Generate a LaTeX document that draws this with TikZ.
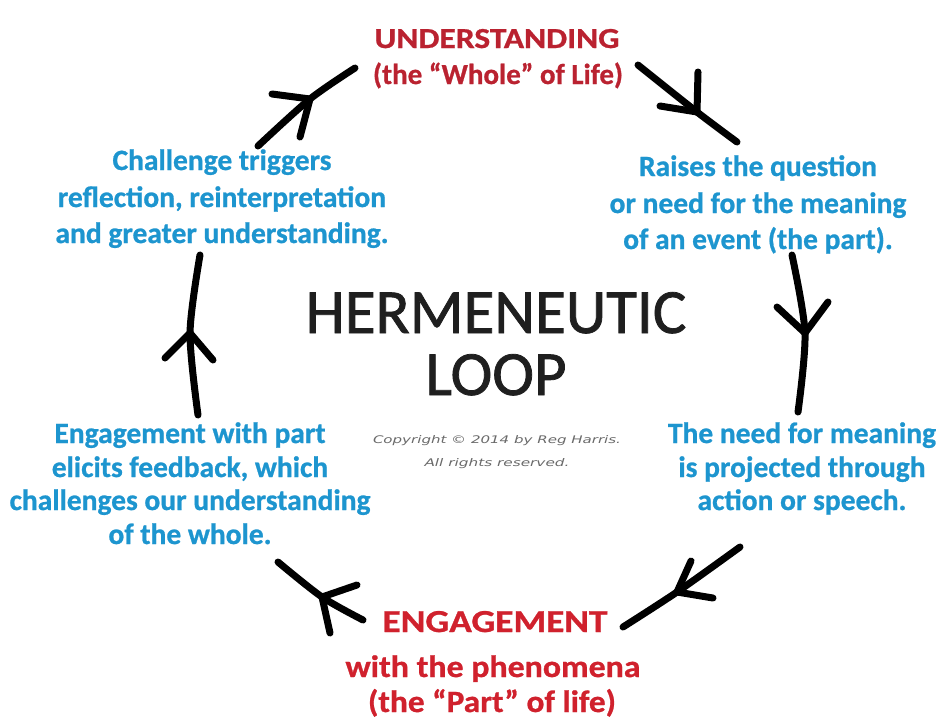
\documentclass[tikz,border=0pt]{standalone}
\usepackage{fontspec}
\usepackage{graphicx}
\setmainfont{Carlito}[BoldFeatures={FakeBold=0.8}]
\newfontfamily\titlefont{Carlito}[FakeBold=1.2]
\newfontfamily\copyfont{DejaVu Sans}
\definecolor{hred}{HTML}{BA2230}
\definecolor{hredb}{HTML}{D0212D}
\definecolor{hblue}{HTML}{1D95CF}
\definecolor{hgrey}{HTML}{6A6A6A}
\newcommand\fitw[2]{\resizebox{#1pt}{\height}{#2}}
\tikzset{
  redtxt/.style={text=hred, font=\bfseries\fontsize{29}{34}\selectfont, anchor=base, inner sep=0pt},
  bluetxt/.style={text=hblue, font=\bfseries\fontsize{29.5}{36}\selectfont, anchor=base, inner sep=0pt},
  titletxt/.style={text=black!88, font=\titlefont\fontsize{63}{70}\selectfont, anchor=base, inner sep=0pt},
  copytxt/.style={text=hgrey, font=\copyfont\itshape\fontsize{10.5}{14}\selectfont, anchor=base, inner sep=0pt},
  stroke/.style={line width=7pt, line cap=round, line join=round, black},
}
\begin{document}
\begin{tikzpicture}[x=1pt,y=-1pt]
\useasboundingbox (0,0) rectangle (944,723);
\fill[white] (0,0) rectangle (944,723);
% red texts
\node[redtxt] (u1) at (497,48) {\fitw{245}{UNDERSTANDING}};
\node[redtxt] (u2) at (498,84) {\fitw{250}{(the “Whole” of Life)}};
\node[redtxt, text=hredb, font=\bfseries\fontsize{32}{36}\selectfont] (e1) at (495,632) {\fitw{225}{ENGAGEMENT}};
\node[redtxt, text=hredb, font=\bfseries\fontsize{31}{36}\selectfont] (e2) at (493,677) {\fitw{295}{with the phenomena}};
\node[redtxt, text=hredb, font=\bfseries\fontsize{31}{36}\selectfont] (e3) at (492,712) {\fitw{248}{(the “Part” of life)}};
% blue texts
\node[bluetxt] (tr1) at (758,176) {Raises the question};
\node[bluetxt] (tr2) at (758,213) {or need for the meaning};
\node[bluetxt] (tr3) at (758,249) {of an event (the part).};
\node[bluetxt] (tl1) at (222,170) {Challenge triggers};
\node[bluetxt] (tl2) at (222,207) {reflection, reinterpretation};
\node[bluetxt] (tl3) at (222,243) {and greater understanding.};
\node[bluetxt] (br1) at (802,443) {The need for meaning};
\node[bluetxt] (br2) at (802,477) {is projected through};
\node[bluetxt] (br3) at (802,510) {action or speech.};
\node[bluetxt] (bl1) at (190,443) {Engagement with part};
\node[bluetxt] (bl2) at (190,477) {elicits feedback, which};
\node[bluetxt] (bl3) at (190,510) {challenges our understanding};
\node[bluetxt] (bl4) at (190,544) {of the whole.};
% title
\node[titletxt] (t1) at (496,333) {HERMENEUTIC};
\node[titletxt] (t2) at (496,395) {LOOP};
\node[copytxt] (c1) at (497,443) {\fitw{248}{Copyright © 2014 by Reg Harris.}};
\node[copytxt] (c2) at (497,466) {\fitw{145}{All rights reserved.}};
% arrow coordinates: start, apex, end, arms
\coordinate (a1s) at (258,146); \coordinate (a1c) at (310,99);  \coordinate (a1e) at (355,68);
\coordinate (a1l) at (272,94);  \coordinate (a1r) at (300,137);
\coordinate (a2s) at (638,65);  \coordinate (a2c) at (697,112); \coordinate (a2e) at (737,142);
\coordinate (a2l) at (698,72);  \coordinate (a2r) at (660,106);
\coordinate (a3s) at (792,255); \coordinate (a3c) at (805,333); \coordinate (a3e) at (798,412);
\coordinate (a3l) at (777,307); \coordinate (a3r) at (828,302);
\coordinate (a4s) at (740,547); \coordinate (a4c) at (677,592); \coordinate (a4e) at (623,627);
\coordinate (a4l) at (691,561); \coordinate (a4r) at (713,598);
\coordinate (a5s) at (363,620); \coordinate (a5c) at (322,597); \coordinate (a5e) at (278,562);
\coordinate (a5l) at (357,585); \coordinate (a5r) at (330,633);
\coordinate (a6s) at (198,415); \coordinate (a6c) at (190,333); \coordinate (a6e) at (200,255);
\coordinate (a6l) at (165,358); \coordinate (a6r) at (213,360);
% strokes
\foreach \a in {a1,a2,a3,a4,a5,a6}{
  \draw[stroke] plot[smooth] coordinates {(\a s) (\a c) (\a e)};
  \draw[stroke] (\a l) -- (\a c) -- (\a r);
}
\end{tikzpicture}
\end{document}
